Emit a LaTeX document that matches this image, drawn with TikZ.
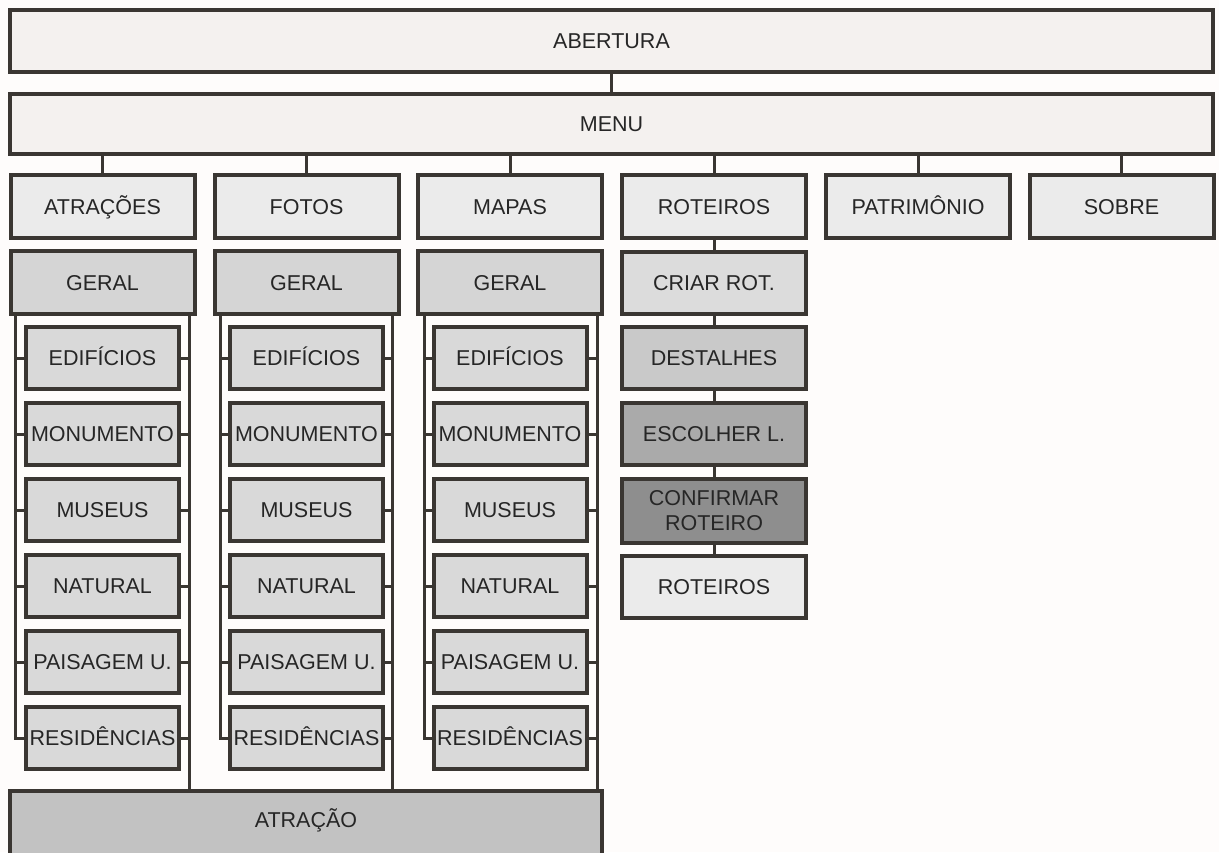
\documentclass[tikz,border=0pt]{standalone}
\usepackage{fontspec}
\setmainfont{Liberation Sans}
\definecolor{edge}{HTML}{3A3632}
\definecolor{txt}{HTML}{262626}
\definecolor{topfill}{HTML}{F4F1EF}
\definecolor{lvlfill}{HTML}{EBEBEB}
\definecolor{geralfill}{HTML}{D5D5D5}
\definecolor{subfill}{HTML}{D9D9D9}
\definecolor{attrfill}{HTML}{C2C2C2}
\definecolor{criarfill}{HTML}{DCDCDC}
\definecolor{detfill}{HTML}{C9C9C9}
\definecolor{escfill}{HTML}{AAAAAA}
\definecolor{conffill}{HTML}{8E8E8E}
\tikzset{
  box/.style={draw=edge, line width=4pt, rectangle, inner sep=0pt, text=txt,
    font=\fontsize{21.5}{25}\selectfont, align=center},
  oneline/.style={text height=15.5pt, text depth=0pt},
  wide/.style={box, oneline, fill=topfill, minimum width=1203pt, minimum height=62pt},
  lvl/.style={box, oneline, fill=lvlfill, minimum width=184pt, minimum height=63pt},
  geral/.style={box, oneline, fill=geralfill, minimum width=184pt, minimum height=63pt},
  sub/.style={box, oneline, fill=subfill, minimum width=153pt, minimum height=62pt},
  rot/.style={box, minimum width=184pt, minimum height=62pt},
  link/.style={draw=edge, line width=3pt},
}
\begin{document}
\begin{tikzpicture}[x=1pt,y=-1pt]
\useasboundingbox (0,0) rectangle (1219,852);
\clip (0,0) rectangle (1219,852);
\fill[white!98!brown] (0,0) rectangle (1219,852);

% top rows
\node[wide] (abertura) at (611.5,41) {ABERTURA};
\node[wide, minimum height=60pt] (menu) at (611.5,124) {MENU};
\draw[link] (abertura.south) -- (menu.north);

% level 1
\node[lvl] (atracoes) at (102.5,206.5) {ATRAÇÕES};
\node[lvl] (fotos) at (306.5,206.5) {FOTOS};
\node[lvl] (mapas) at (510,206.5) {MAPAS};
\node[lvl] (roteiros) at (714,206.5) {ROTEIROS};
\node[lvl] (patrimonio) at (918,206.5) {PATRIMÔNIO};
\node[lvl] (sobre) at (1121.5,206.5) {SOBRE};
\foreach \n in {atracoes,fotos,mapas,roteiros,patrimonio,sobre}
  \draw[link] (\n.north) -- (\n.north |- menu.south);

% bottom attraction box position
\coordinate (atrtop) at (306,789);

% columns with sub items
\foreach \c/\cx/\lx/\rx in {A/102.5/15/189, F/306.5/220/392, M/510/424/597}{
  \node[geral] (geral\c) at (\cx,282.5) {GERAL};
  \coordinate (lr\c) at (\lx,0);
  \coordinate (rr\c) at (\rx,0);
  \node[sub] (ed\c) at (\cx,358) {EDIFÍCIOS};
  \node[sub] (mo\c) at (\cx,434) {MONUMENTO};
  \node[sub] (mu\c) at (\cx,510) {MUSEUS};
  \node[sub] (na\c) at (\cx,586) {NATURAL};
  \node[sub] (pa\c) at (\cx,662) {PAISAGEM U.};
  \node[sub] (re\c) at (\cx,738) {RESIDÊNCIAS};
  \draw[link] (lr\c |- geral\c.south) -- (lr\c |- re\c.west) -- (re\c.west);
  \draw[link] (rr\c |- geral\c.south) -- (rr\c |- atrtop);
  \foreach \s in {ed,mo,mu,na,pa}
    \draw[link] (\s\c.west) -- (\s\c.west -| lr\c);
  \foreach \s in {ed,mo,mu,na,pa,re}
    \draw[link] (\s\c.east) -- (\s\c.east -| rr\c);
}

\node[box, fill=attrfill, minimum width=592pt, minimum height=80pt, anchor=north] (atracao) at (atrtop) {};
\node[text=txt, font=\fontsize{21.5}{25}\selectfont] (atracaolbl) at (306,820) {ATRAÇÃO};

% roteiros chain
\node[rot, oneline, fill=criarfill] (criar) at (714,282.5) {CRIAR ROT.};
\node[rot, oneline, fill=detfill] (destalhes) at (714,358) {DESTALHES};
\node[rot, oneline, fill=escfill] (escolher) at (714,434) {ESCOLHER L.};
\node[rot, fill=conffill, minimum height=64pt] (confirmar) at (714,511) {CONFIRMAR\\ROTEIRO};
\node[rot, oneline, fill=lvlfill] (roteiros2) at (714,586.5) {ROTEIROS};
\draw[link] (roteiros.south) -- (criar.north);
\draw[link] (criar.south) -- (destalhes.north);
\draw[link] (destalhes.south) -- (escolher.north);
\draw[link] (escolher.south) -- (confirmar.north);
\draw[link] (confirmar.south) -- (roteiros2.north);
\end{tikzpicture}
\end{document}
